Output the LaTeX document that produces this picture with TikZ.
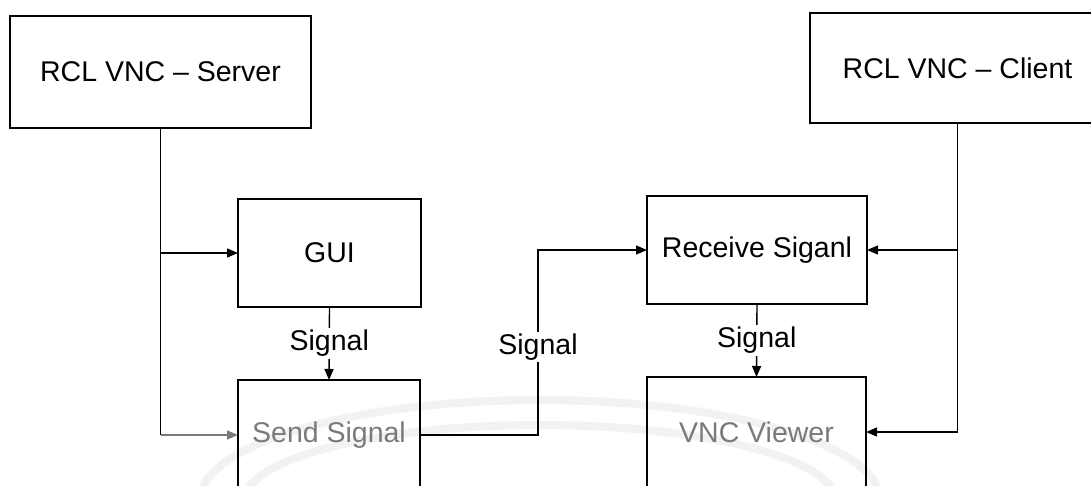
\documentclass[tikz,border=0pt]{standalone}
\usepackage{fontspec}
\setmainfont{Liberation Sans}
\usetikzlibrary{arrows.meta}
\definecolor{faded}{HTML}{7A7A7A}
\tikzset{
  block/.style={draw=black, line width=1.8pt, inner sep=0pt, outer sep=0pt,
    font=\fontsize{28.5}{33}\selectfont},
  link/.style={line width=1.4pt, -{Triangle[length=11pt,width=9pt]}},
  wire/.style={line width=1.4pt},
  tag/.style={fill=white, inner sep=2pt, font=\fontsize{28.5}{33}\selectfont},
  seal/.style={line width=8pt, color=black!5}
}
\begin{document}
\begin{tikzpicture}[x=1pt,y=-1pt]
  \useasboundingbox (0,0) rectangle (1091,485);
  \clip (0,0) rectangle (1091,485);
  \fill[white] (0,0) rectangle (1091,485);

  % faint seal in the lower part of the sheet
  \draw[seal] (200,500) arc[start angle=180, end angle=0, x radius=340, y radius=-100];
  \draw[seal] (245,500) arc[start angle=180, end angle=0, x radius=295, y radius=-75];

  % blocks
  \node[block, minimum width=301pt, minimum height=112pt] (srv) at (160.5,72) {RCL VNC -- Server};
  \node[block, minimum width=295pt, minimum height=110pt] (cli) at (957.5,68) {RCL VNC -- Client};
  \node[block, minimum width=183pt, minimum height=108pt] (gui) at (329.5,253) {GUI};
  \node[block, minimum width=182pt, minimum height=110pt, text=faded] (send) at (329,435) {Send Signal};
  \node[block, minimum width=220pt, minimum height=108pt] (rcv) at (757,250) {Receive Siganl};
  \node[block, minimum width=219pt, minimum height=110pt, text=faded] (vnc) at (756.5,432) {VNC Viewer};

  % server side
  \draw[wire] (srv.south) -- (srv.south |- send.west);
  \draw[link] (srv.south |- gui.west) -- (gui.west);
  \draw[link, color=faded] (srv.south |- send.west) -- (send.west);
  \draw[link] (gui.south) -- node[tag] (s1) {Signal} (send.north);

  % link between the two sides
  \coordinate (bend) at (538,0);
  \draw[link] (send.east) -| (bend |- rcv.west) -- (rcv.west);
  \node[tag] (s2) at (538,347) {Signal};

  % client side
  \draw[wire] (cli.south) -- (cli.south |- vnc.east);
  \draw[link] (cli.south |- rcv.east) -- (rcv.east);
  \draw[link] (cli.south |- vnc.east) -- (vnc.east);
  \draw[link] (rcv.south) -- node[tag] (s3) {Signal} (vnc.north);
\end{tikzpicture}
\end{document}
